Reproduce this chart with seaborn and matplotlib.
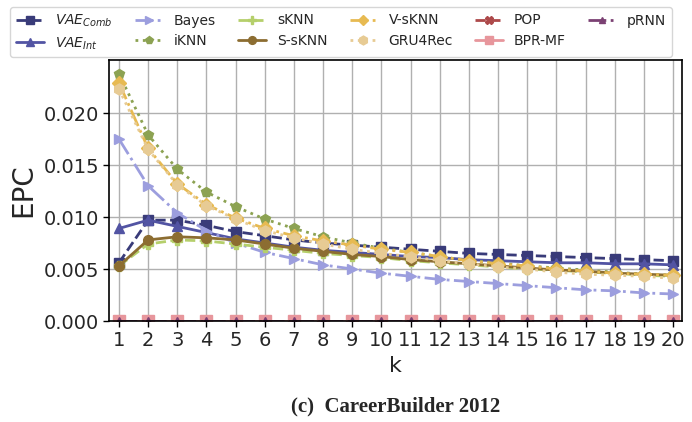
import matplotlib
matplotlib.use("Agg")
import matplotlib.pyplot as plt
import seaborn as sns

# k values on the x axis
k = list(range(1, 21))

# EPC per method
vae_comb = [0.0056, 0.0097, 0.0097, 0.0092, 0.0086, 0.0082, 0.0078, 0.0075, 0.0073, 0.0071,
            0.0069, 0.0067, 0.0065, 0.0064, 0.0063, 0.0062, 0.0061, 0.0060, 0.0059, 0.0058]
vae_int = [0.0089, 0.0097, 0.0091, 0.0085, 0.0079, 0.0075, 0.0071, 0.0068, 0.0066, 0.0064,
           0.0062, 0.0061, 0.0059, 0.0058, 0.0057, 0.0056, 0.0056, 0.0055, 0.0055, 0.0054]
bayes = [0.0175, 0.0130, 0.0104, 0.0087, 0.0075, 0.0066, 0.0060, 0.0054, 0.0050, 0.0046,
         0.0043, 0.0040, 0.0038, 0.0036, 0.0034, 0.0032, 0.0030, 0.0029, 0.0027, 0.0026]
iknn = [0.0238, 0.0179, 0.0146, 0.0124, 0.0110, 0.0098, 0.0089, 0.0081, 0.0075, 0.0070,
        0.0066, 0.0062, 0.0058, 0.0056, 0.0053, 0.0051, 0.0049, 0.0047, 0.0045, 0.0044]
sknn = [0.0053, 0.0074, 0.0078, 0.0077, 0.0074, 0.0071, 0.0068, 0.0065, 0.0063, 0.0061,
        0.0058, 0.0056, 0.0054, 0.0052, 0.0050, 0.0049, 0.0047, 0.0046, 0.0044, 0.0043]
s_sknn = [0.0053, 0.0078, 0.0081, 0.0080, 0.0078, 0.0074, 0.0070, 0.0067, 0.0064, 0.0062,
          0.0059, 0.0057, 0.0055, 0.0053, 0.0051, 0.0049, 0.0048, 0.0046, 0.0045, 0.0044]
v_sknn = [0.0229, 0.0166, 0.0132, 0.0112, 0.0099, 0.0089, 0.0082, 0.0077, 0.0073, 0.0069,
          0.0066, 0.0062, 0.0058, 0.0055, 0.0053, 0.0050, 0.0048, 0.0046, 0.0045, 0.0044]
gru4rec = [0.0223, 0.0165, 0.0131, 0.0111, 0.0098, 0.0087, 0.0080, 0.0074, 0.0069, 0.0065,
           0.0062, 0.0058, 0.0055, 0.0052, 0.0050, 0.0047, 0.0045, 0.0044, 0.0043, 0.0041]
pop = [0.00001] * 20
bpr_mf = [0.00001] * 20
prnn = [0.00001] * 20

# label, values, colour, linestyle, marker, markersize
series = [
    (r"$VAE_{Comb}$", vae_comb, "#393b79", "--", "s", 7),
    (r"$VAE_{Int}$", vae_int, "#5254a3", "-", "^", 7),
    ("Bayes", bayes, "#9c9ede", "-.", ">", 7),
    ("iKNN", iknn, "#8ca252", ":", "p", 7),
    ("sKNN", sknn, "#b5cf6b", "--", "P", 7),
    ("S-sKNN", s_sknn, "#8c6d31", "-", "o", 7),
    ("V-sKNN", v_sknn, "#e7ba52", "-.", "D", 7),
    ("GRU4Rec", gru4rec, "#e7cb94", ":", "h", 8),
    ("POP", pop, "#ad494a", "--", "X", 7),
    ("BPR-MF", bpr_mf, "#e7969c", "-", "s", 8),
    ("pRNN", prnn, "#7b4173", "-.", "^", 6),
]

sns.set_style("ticks", {"axes.grid": True, "grid.color": "#b0b0b0",
                        "axes.edgecolor": "black"})
plt.rcParams["font.family"] = ["DejaVu Sans"]

fig = plt.figure(figsize=(6.92, 4.22), dpi=100)
ax = fig.add_axes([0.158, 0.2393, 0.8273, 0.6185])

for label, vals, color, ls, mk, ms in series:
    sns.lineplot(x=k, y=vals, ax=ax, label=label, color=color, linestyle=ls,
                 marker=mk, markersize=ms, markeredgecolor=color,
                 markeredgewidth=1, linewidth=2)

ax.set_xlim(0.67, 20.3)
ax.set_ylim(0, 0.0251)
ax.set_xticks(k)
ax.set_yticks([0, 0.005, 0.010, 0.015, 0.020])
ax.set_yticklabels(["0.000", "0.005", "0.010", "0.015", "0.020"])
ax.tick_params(labelsize=14, color="black", length=4, width=1)
ax.grid(True, color="#b0b0b0", linewidth=1)
for sp in ax.spines.values():
    sp.set_color("black")
    sp.set_linewidth(1.2)
ax.set_xlabel("k", fontsize=16)
ax.set_ylabel("EPC", fontsize=20)

ax.get_legend().remove()
handles, labels = ax.get_legend_handles_labels()
fig.legend(handles, labels, ncol=6, loc="upper left",
           bbox_to_anchor=(0.005, 1.0), fontsize=10, frameon=True,
           framealpha=0.8, edgecolor="#cccccc", fancybox=True,
           columnspacing=1.6, markerscale=0.8, labelspacing=0.45)

fig.text(0.572, 0.012, "(c)  CareerBuilder 2012", ha="center", va="bottom",
         fontsize=15, fontweight="bold", family="Liberation Serif")

fig.savefig("out.png", dpi=100)
